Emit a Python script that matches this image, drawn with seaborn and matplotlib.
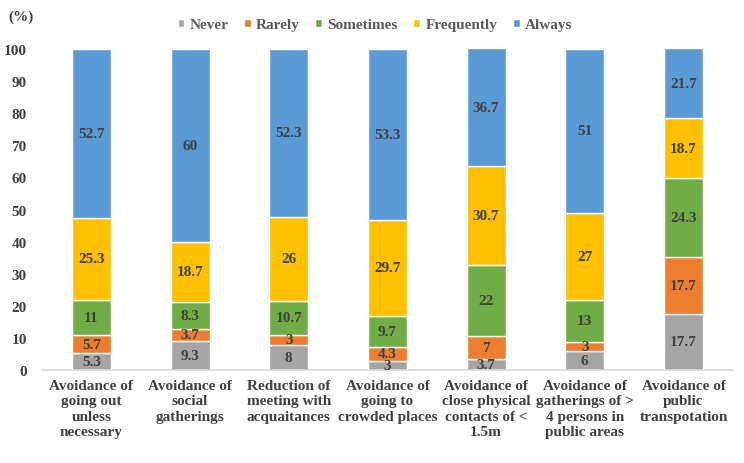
import numpy as np
import seaborn as sns
import matplotlib.pyplot as plt
from matplotlib.patches import Patch

categories = [
    "Avoidance of\ngoing out\nunless\nnecessary",
    "Avoidance of\nsocial\ngatherings",
    "Reduction of\nmeeting with\nacquaitances",
    "Avoidance of\ngoing to\ncrowded places",
    "Avoidance of\nclose physical\ncontacts of <\n1.5m",
    "Avoidance of\ngatherings of >\n4 persons in\npublic areas",
    "Avoidance of\npublic\ntranspotation",
]
levels = ["Never", "Rarely", "Sometimes", "Frequently", "Always"]
never = [5.3, 9.3, 8, 3, 3.7, 6, 17.7]
rarely = [5.7, 3.7, 3, 4.3, 7, 3, 17.7]
sometimes = [11, 8.3, 10.7, 9.7, 22, 13, 24.3]
frequently = [25.3, 18.7, 26, 29.7, 30.7, 27, 18.7]
always = [52.7, 60, 52.3, 53.3, 36.7, 51, 21.7]
yticks = list(range(0, 101, 10))

colors = ["#A5A5A5", "#ED7D31", "#70AD47", "#FFC000", "#5B9BD5"]
txt = "#404040"

sns.set_style("white")
plt.rcParams['font.family'] = ['Liberation Serif', 'DejaVu Serif']
plt.rcParams['font.weight'] = 'bold'

fig = plt.figure(figsize=(7.44, 4.64), dpi=100)
ax = fig.add_axes([0.0565, 0.1994, 0.9285, 0.6936])

series = [never, rarely, sometimes, frequently, always]
bottom = np.zeros(len(categories))
for name, vals, c in zip(levels, series, colors):
    sns.barplot(x=categories, y=vals, bottom=bottom, color=c, width=0.395,
                saturation=1, ax=ax, errorbar=None)
    bars = ax.containers[-1]
    # 数据标签放在每段中间
    ax.bar_label(bars, labels=[f"{v:g}" for v in vals], label_type='center',
                 fontsize=11, fontweight='bold', color=txt)
    bottom = bottom + np.array(vals)

ax.set_ylim(0, 100)
ax.set_xlim(-0.5, len(categories) - 0.5)
ax.set_yticks(yticks)
ax.set_yticklabels([str(t) for t in yticks], fontsize=11, fontweight='bold', color=txt)
ax.set_xticks(range(len(categories)))
ax.set_xticklabels(categories, fontsize=11, fontweight='bold', color=txt,
                   linespacing=1.25, va='top')
ax.tick_params(axis='both', length=0)
ax.tick_params(axis='x', pad=6)
ax.tick_params(axis='y', pad=11)
ax.set_xlabel("")
ax.set_ylabel("")
for s in ['top', 'right', 'left']:
    ax.spines[s].set_visible(False)
ax.spines['bottom'].set_color("#D9D9D9")
ax.spines['bottom'].set_linewidth(1.2)

handles = [Patch(facecolor=c, label=l) for l, c in zip(levels, colors)]
fig.legend(handles=handles, loc='center', bbox_to_anchor=(0.504, 0.944), ncol=5,
           frameon=False, handlelength=0.45, handleheight=0.45, handletextpad=0.35,
           columnspacing=1.0, prop={'size': 11, 'weight': 'bold'}, labelcolor="#595959")
fig.text(0.028, 0.962, "(%)", fontsize=11, fontweight='bold', color=txt, ha='center', va='center')

fig.savefig("out.png", dpi=100)
